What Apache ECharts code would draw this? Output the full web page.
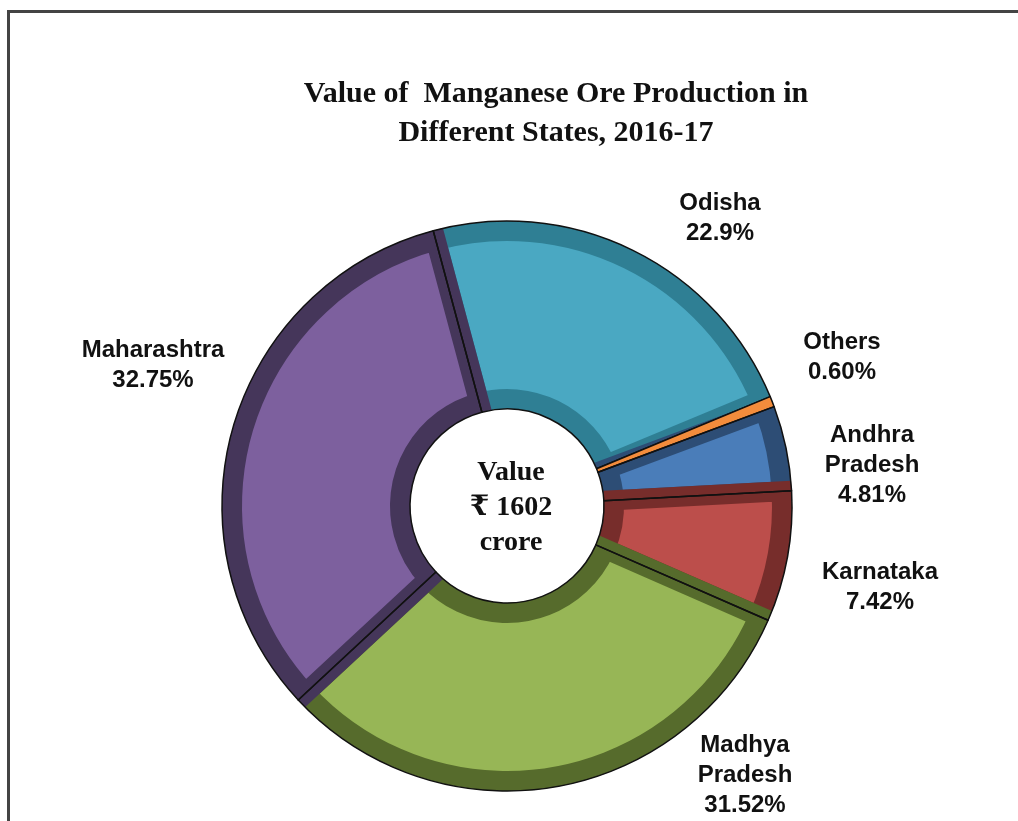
<!DOCTYPE html>
<html>
<head>
<meta charset="utf-8">
<title>Manganese Ore Production 2016-17</title>
<script src="https://cdn.jsdelivr.net/npm/echarts@6/dist/echarts.min.js"></script>
<style>
  html, body { margin: 0; padding: 0; background: #fff; }
  #frame {
    position: absolute; left: 7px; top: 10px; width: 1040px; height: 840px;
    border-left: 3px solid #444; border-top: 3px solid #444;
  }
  #chart { position: absolute; left: 0; top: 0; width: 1018px; height: 821px; }
</style>
</head>
<body>
<div id="frame"></div>
<div id="chart"></div>
<script>
// data (share of value, %)
const states = ['Odisha', 'Others', 'Andhra\nPradesh', 'Karnataka', 'Madhya\nPradesh', 'Maharashtra'];
const shares = [22.9, 0.6, 4.81, 7.42, 31.52, 32.75];
const shareText = ['22.9', '0.60', '4.81', '7.42', '31.52', '32.75'];

const faceColors = ['#4aa8c2', '#f28c3c', '#4a7db9', '#bc4e4b', '#97b656', '#7d609e'];
const edgeColors = ['#2f7f94', '#c0621a', '#2d4d75', '#772d2b', '#566b2c', '#45365a'];

// where each label sits (centre of the text block)
const labelSpots = [
  [720, 218], [842, 357], [872, 465], [880, 587], [745, 775], [153, 365]
];

const chart = echarts.init(document.getElementById('chart'));

const center = [507, 506];

// face of each slice, its wide border painted in the darker shade gives the bevel
const faceData = states.map((name, i) => ({
  name,
  value: shares[i],
  itemStyle: {
    color: faceColors[i],
    borderColor: edgeColors[i],
    borderWidth: name === 'Others' ? 0 : 20
  }
}));

// outlines on top; the thin Others slice is painted here so nothing hides it
const outlineData = states.map((name, i) => ({
  name,
  value: shares[i],
  itemStyle: { color: name === 'Others' ? faceColors[i] : 'rgba(0,0,0,0)' }
}));

const option = {
  animation: false,
  title: [
    {
      text: 'Value of  Manganese Ore Production in\nDifferent States, 2016-17',
      left: 551,
      top: 70,
      textAlign: 'center',
      textStyle: {
        fontFamily: '"Liberation Serif", "Times New Roman", serif',
        fontWeight: 'bold',
        fontSize: 30,
        lineHeight: 39,
        color: '#111'
      }
    },
    {
      text: 'Value\n₹ 1602\ncrore',
      left: 506,
      top: 450,
      textAlign: 'center',
      textStyle: {
        fontFamily: '"Liberation Serif", "DejaVu Serif", serif',
        fontWeight: 'bold',
        fontSize: 28,
        lineHeight: 35,
        color: '#111'
      }
    }
  ],
  series: [
    {
      type: 'pie',
      center,
      radius: [107, 275],
      startAngle: 105,
      clockwise: true,
      silent: true,
      itemStyle: { borderJoin: 'miter' },
      label: { show: false },
      labelLine: { show: false },
      data: faceData
    },
    {
      type: 'pie',
      center,
      radius: [97, 285],
      startAngle: 105,
      clockwise: true,
      silent: true,
      itemStyle: { borderColor: '#111', borderWidth: 1.5 },
      label: {
        show: true,
        position: 'outside',
        formatter: (p) => p.name + '\n' + shareText[p.dataIndex] + '%',
        fontFamily: '"Liberation Sans", Arial, sans-serif',
        fontWeight: 'bold',
        fontSize: 24,
        lineHeight: 30,
        color: '#111',
        align: 'center'
      },
      labelLine: { show: false },
      labelLayout: (p) => ({
        x: labelSpots[p.dataIndex][0],
        y: labelSpots[p.dataIndex][1],
        align: 'center',
        verticalAlign: 'middle'
      }),
      data: outlineData
    }
  ]
};

chart.setOption(option);
</script>
</body>
</html>
